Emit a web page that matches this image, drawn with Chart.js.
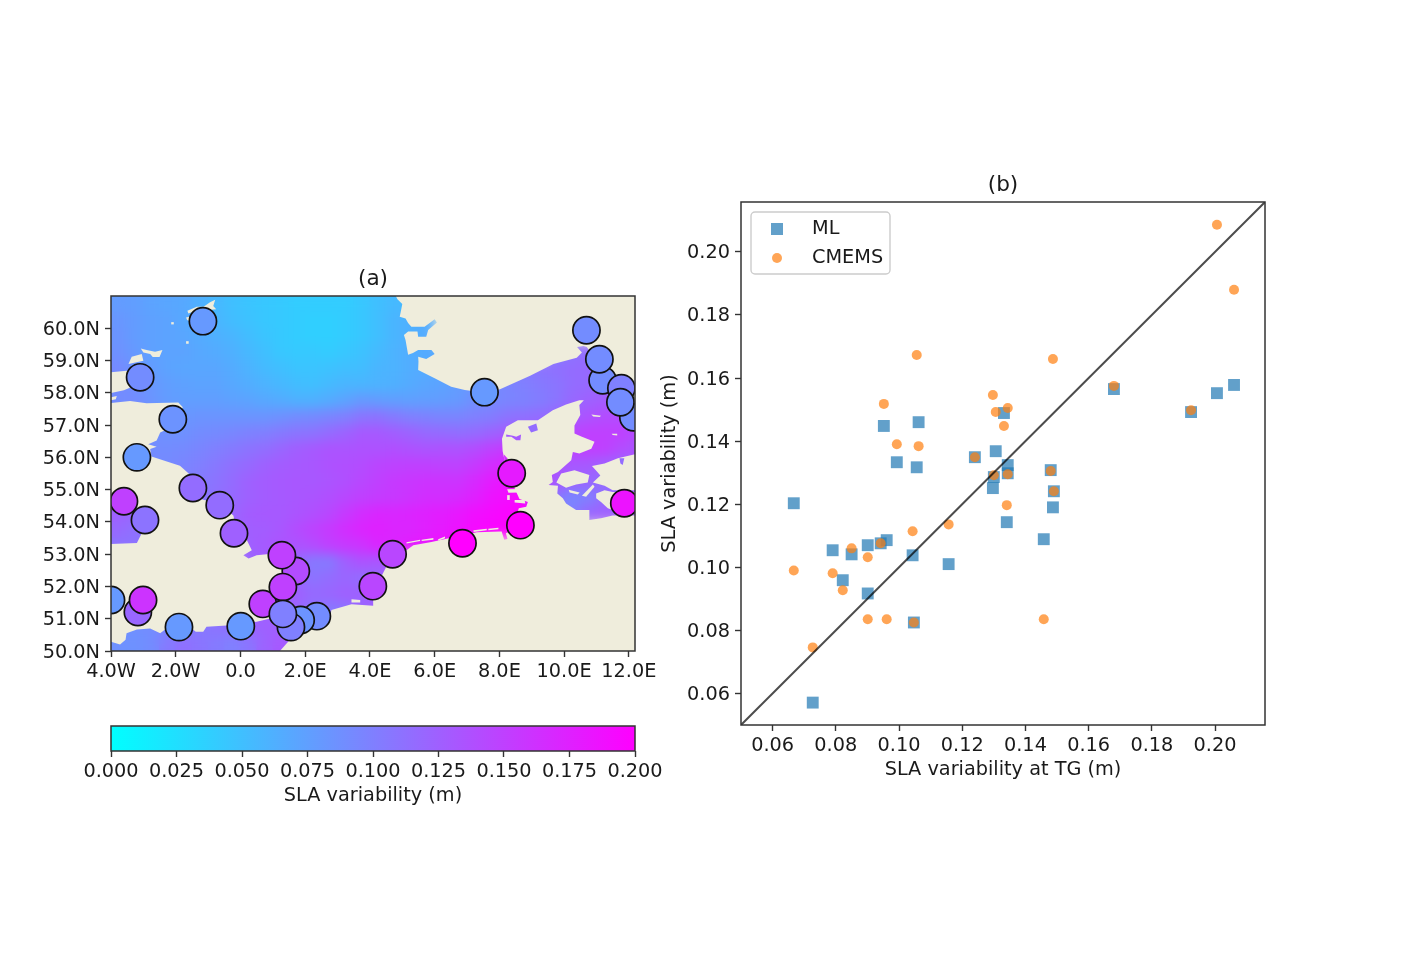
<!DOCTYPE html>
<html>
<head>
<meta charset="utf-8">
<title>SLA variability</title>
<script src="https://cdn.jsdelivr.net/npm/chart.js@4/dist/chart.umd.js"></script>
<style>
  body { margin: 0; background: #fff; }
  canvas { position: absolute; filter: blur(0.45px); }
  #mapChart { left: 30px; top: 256px; }
  #barChart { left: 30px; top: 716px; }
  #scatterChart { left: 650px; top: 162px; }
</style>
</head>
<body>
<canvas id="mapChart" width="650" height="435"></canvas>
<canvas id="barChart" width="650" height="95"></canvas>
<canvas id="scatterChart" width="680" height="623"></canvas>
<script>
// ── PANEL (b) VALUES ──
const tgValues = [0.0667, 0.0727, 0.079, 0.0822, 0.085, 0.0901, 0.0901, 0.0942, 0.0961, 0.0952, 0.0993, 0.1043, 0.1047, 0.1056, 0.1062, 0.1157, 0.124, 0.1297, 0.13, 0.1306, 0.1332, 0.1341, 0.1344, 0.1344, 0.1458, 0.148, 0.1487, 0.149, 0.168, 0.1924, 0.2006, 0.206];
const mlValues = [0.1203, 0.0571, 0.1054, 0.0959, 0.1041, 0.107, 0.0917, 0.1076, 0.1086, 0.1448, 0.1333, 0.1038, 0.0825, 0.1317, 0.146, 0.101, 0.1349, 0.1251, 0.1286, 0.1368, 0.1489, 0.1143, 0.1324, 0.1298, 0.1089, 0.1308, 0.119, 0.1241, 0.1565, 0.1492, 0.1552, 0.1578];
const cmemsValues = [0.099, 0.0746, 0.0981, 0.0927, 0.106, 0.1032, 0.0835, 0.1076, 0.0835, 0.1518, 0.139, 0.1114, 0.0825, 0.1673, 0.1384, 0.1136, 0.1349, 0.1546, 0.1292, 0.1492, 0.1448, 0.1197, 0.1505, 0.1295, 0.0835, 0.1305, 0.166, 0.1241, 0.1575, 0.1498, 0.2086, 0.188];
const scatterTicks = [0.06, 0.08, 0.10, 0.12, 0.14, 0.16, 0.18, 0.20];
const oneToOne = [0.05, 0.2158];

// ── PANEL (a) VALUES ──
const lonTicks = [-4, -2, 0, 2, 4, 6, 8, 10, 12];
const lonLabels = ['4.0W', '2.0W', '0.0', '2.0E', '4.0E', '6.0E', '8.0E', '10.0E', '12.0E'];
const latTicks = [50, 51, 52, 53, 54, 55, 56, 57, 58, 59, 60];
const latLabels = ['50.0N', '51.0N', '52.0N', '53.0N', '54.0N', '55.0N', '56.0N', '57.0N', '58.0N', '59.0N', '60.0N'];
const barTicks = [0, 0.025, 0.05, 0.075, 0.1, 0.125, 0.15, 0.175, 0.2];

// tide gauges, later ones sit on top
const gaugeLon = [-1.16, 10.69, 11.19, 11.09, 12.14, 11.77, 11.74, 7.54, -3.1, -2.09, -3.2, -1.47, -0.64, -0.2, -3.6, -2.95, 1.71, 1.28, 0.69, 1.31, 2.36, 1.86, 1.56, 1.31, 0.01, -1.9, -3.17, -3.01, -4, 4.09, 4.7, 6.86, 8.65, 8.38, 11.86];
const gaugeLat = [60.22, 59.94, 58.39, 59.04, 57.24, 58.14, 57.71, 58.02, 58.48, 57.18, 56.0, 55.05, 54.52, 53.65, 54.64, 54.06, 52.48, 52.97, 51.46, 51.98, 51.08, 50.96, 50.74, 51.15, 50.77, 50.74, 51.21, 51.58, 51.58, 52.01, 53.0, 53.34, 53.9, 55.51, 54.58];
const gaugeSla = [0.08, 0.09, 0.09, 0.09, 0.09, 0.1, 0.09, 0.08, 0.09, 0.085, 0.08, 0.115, 0.115, 0.125, 0.15, 0.11, 0.14, 0.15, 0.15, 0.15, 0.09, 0.085, 0.1, 0.1, 0.08, 0.08, 0.12, 0.16, 0.08, 0.145, 0.145, 0.2, 0.2, 0.18, 0.185];

// gridded field in mm, 0 or missing = under land
const fieldLons = [-3.75, -3.25, -2.75, -2.25, -1.75, -1.25, -0.75, -0.25, 0.25, 0.75, 1.25, 1.75, 2.25, 2.75, 3.25, 3.75, 4.25, 4.75, 5.25, 5.75, 6.25, 6.75, 7.25, 7.75, 8.25, 8.75, 9.25, 9.75, 10.25, 10.75, 11.25, 11.75, 12.25];
const fieldLats = [60.75, 60.25, 59.75, 59.25, 58.75, 58.25, 57.75, 57.25, 56.75, 56.25, 55.75, 55.25, 54.75, 54.25, 53.75, 53.25, 52.75, 52.25, 51.75, 51.25, 50.75, 50.25];
const slaField = [
  [78, 76, 72, 70, 68, 62, 56, 50, 46, 44, 42, 40, 40, 40, 40, 44, 50, 55, 55],
  [82, 78, 74, 72, 68, 64, 58, 52, 48, 44, 42, 40, 38, 38, 40, 44, 50, 58, 62, 64],
  [84, 78, 74, 72, 70, 66, 62, 58, 52, 46, 42, 40, 38, 38, 40, 44, 50, 58, 62, 66],
  [86, 80, 74, 72, 72, 68, 66, 62, 56, 50, 44, 42, 42, 40, 44, 48, 54, 60, 64, 66, 70, 70, 0, 0, 0, 0, 0, 100, 110, 115, 115],
  [92, 84, 78, 72, 70, 70, 70, 66, 60, 54, 50, 46, 46, 48, 50, 52, 58, 60, 64, 66, 70, 76, 80, 90, 100, 104, 110, 112, 115, 118, 118, 115],
  [92, 88, 82, 76, 74, 72, 72, 68, 64, 60, 56, 52, 50, 54, 58, 58, 60, 62, 66, 70, 72, 78, 84, 90, 96, 100, 104, 108, 115, 118, 120, 120],
  [90, 90, 84, 78, 76, 76, 76, 74, 72, 68, 66, 62, 62, 66, 72, 80, 78, 76, 75, 76, 78, 80, 88, 92, 96, 98, 102, 108, 118, 124, 128, 130, 130],
  [92, 92, 88, 84, 82, 84, 84, 84, 84, 84, 86, 90, 92, 96, 100, 108, 110, 104, 100, 98, 96, 96, 100, 102, 110, 112, 115, 120, 130, 135, 140, 140, 135],
  [92, 92, 88, 86, 86, 90, 92, 94, 98, 100, 104, 108, 110, 116, 122, 130, 130, 126, 122, 118, 116, 114, 116, 122, 128, 130, 130, 135, 145, 150, 150, 150, 140],
  [92, 92, 90, 90, 92, 96, 100, 104, 110, 114, 120, 126, 130, 134, 134, 136, 136, 138, 136, 134, 136, 136, 140, 148, 155, 155, 150, 145, 150, 150, 150, 140, 135],
  [96, 96, 92, 92, 96, 100, 106, 112, 118, 124, 128, 130, 132, 136, 138, 140, 146, 148, 150, 150, 148, 148, 155, 165, 172, 170, 150, 135, 130, 130, 125, 120, 120],
  [100, 98, 96, 96, 98, 104, 110, 116, 124, 128, 130, 132, 132, 134, 138, 144, 150, 155, 158, 160, 160, 160, 168, 178, 185, 185, 150, 130, 125, 120, 115, 115, 115],
  [125, 118, 106, 100, 100, 106, 112, 118, 124, 128, 130, 132, 134, 138, 144, 150, 154, 156, 160, 165, 165, 168, 175, 185, 190, 195, 130, 110, 95, 100, 115, 125, 125],
  [125, 120, 112, 104, 100, 106, 114, 120, 128, 130, 130, 134, 138, 144, 155, 165, 170, 170, 172, 175, 178, 182, 188, 192, 196, 198, 130, 100, 100, 120, 125, 125, 125],
  [118, 112, 108, 100, 100, 105, 112, 120, 126, 128, 132, 140, 148, 155, 165, 172, 175, 172, 172, 176, 180, 186, 192, 196, 198, 200],
  [110, 110, 110, 110, 110, 110, 110, 115, 125, 130, 135, 135, 140, 150, 155, 160, 170, 172, 178, 182, 190, 196, 198],
  [0, 0, 0, 0, 0, 0, 0, 0, 120, 125, 125, 118, 105, 105, 125, 135, 132, 135],
  [0, 0, 0, 0, 0, 0, 0, 0, 120, 125, 125, 120, 110, 115, 120, 115, 120, 125],
  [0, 0, 0, 0, 0, 0, 0, 0, 120, 125, 125, 125, 118, 120, 125, 125, 125, 125],
  [90, 90, 90, 95, 100, 105, 110, 115, 120, 125, 125, 120, 110, 105, 110, 120, 125],
  [88, 88, 90, 94, 100, 105, 110, 114, 120, 125, 125, 120, 112, 108],
  [86, 86, 90, 104, 112, 108, 104, 100, 108, 122, 130, 125, 115]
];

// ── COASTLINES (lon, lat) ──
const britain = [[-4, 50.29], [-3.72, 50.2], [-3.55, 50.35], [-3.52, 50.55], [-3.2, 50.67], [-2.79, 50.7], [-2.48, 50.55], [-2.35, 50.65], [-1.9, 50.65], [-1.46, 50.66], [-1.38, 50.6], [-1.15, 50.6], [-1.05, 50.75], [-0.3, 50.8], [0.5, 50.91], [0.92, 51.01], [1.4, 51.15], [1.3, 51.4], [0.8, 51.45], [1.0, 51.7], [1.3, 51.85], [1.6, 52.2], [1.75, 52.55], [1.6, 52.8], [1.3, 52.95], [0.81, 53.0], [0.5, 52.97], [0.25, 52.87], [0.09, 52.97], [0.35, 53.12], [0.2, 53.43], [-0.1, 53.65], [-0.15, 53.9], [-0.22, 54.2], [-0.63, 54.55], [-1.2, 54.7], [-1.45, 55.05], [-1.6, 55.5], [-1.87, 55.74], [-2.75, 56.03], [-2.79, 56.26], [-2.59, 56.33], [-2.85, 56.41], [-2.59, 56.52], [-2.48, 56.77], [-2.1, 56.95], [-1.95, 57.3], [-1.78, 57.55], [-1.92, 57.7], [-2.9, 57.68], [-3.41, 57.75], [-4.3, 57.65], [-4.3, 54.6], [-3.5, 54.6], [-3.0, 54.3], [-2.9, 53.95], [-3.0, 53.75], [-3.1, 53.55], [-3.2, 53.35], [-4.3, 53.3], [-4.3, 50.29]];
const caithness = [[-4.3, 58.61], [-3.52, 58.68], [-3.2, 58.6], [-3.05, 58.5], [-3.2, 58.25], [-3.6, 58.08], [-4.3, 57.93]];
const blackIsle = [[-4.3, 57.8], [-3.82, 57.9], [-3.85, 57.8], [-4.3, 57.72]];
const orkneyMain = [[-3.46, 58.89], [-3.36, 59.12], [-3.05, 59.2], [-3.0, 58.99]];
const orkneyNorth = [[-3.08, 59.37], [-2.9, 59.33], [-2.64, 59.27], [-2.41, 59.33], [-2.5, 59.11], [-2.71, 59.11], [-2.79, 59.2], [-3.0, 59.25]];
const shetland = [[-0.94, 60.81], [-0.78, 60.88], [-0.84, 60.69], [-0.75, 60.59], [-0.99, 60.57], [-1.25, 60.59], [-1.61, 60.46], [-1.64, 60.54], [-1.35, 60.67], [-1.14, 60.67]];
const shetlandSouth = [[-1.68, 60.33], [-1.5, 60.38], [-1.3, 60.1], [-1.65, 60.26]];
const foula = [[-2.14, 60.19], [-2.06, 60.19], [-2.06, 60.12], [-2.14, 60.12]];
const fairIsle = [[-1.68, 59.6], [-1.6, 59.6], [-1.6, 59.52], [-1.68, 59.52]];
const continent = [[1.22, 49.8], [1.22, 50], [1.52, 50.34], [1.94, 50.7], [2.76, 51.0], [2.81, 51.27], [3.43, 51.45], [4.1, 51.4], [4.1, 51.6], [4.2, 52.0], [4.4, 52.4], [4.6, 52.8], [5.13, 53.12], [5.34, 53.28], [5.9, 53.38], [6.47, 53.5], [7.3, 53.68], [8.07, 53.7], [8.15, 53.45], [8.25, 53.47], [8.2, 53.65], [8.45, 53.75], [8.8, 53.85], [8.95, 54.0], [8.55, 54.25], [8.6, 54.42], [8.83, 54.47], [8.88, 54.62], [8.62, 54.71], [8.47, 55.04], [8.45, 55.3], [8.2, 55.5], [8.16, 55.91], [8.1, 56.2], [8.08, 56.58], [8.21, 56.95], [8.57, 57.15], [9.19, 57.15], [9.65, 57.46], [10.06, 57.64], [10.47, 57.77], [10.61, 57.77], [10.47, 57.62], [10.5, 57.31], [10.32, 56.99], [10.32, 56.74], [10.55, 56.64], [10.94, 56.48], [10.84, 56.27], [10.47, 56.12], [10.27, 56.17], [10.22, 55.91], [9.81, 55.55], [9.62, 55.45], [9.65, 55.24], [9.52, 55.14], [9.81, 55.12], [9.79, 54.88], [9.96, 54.73], [10.06, 54.57], [10.37, 54.37], [10.78, 54.37], [10.78, 54.06], [11.14, 54.11], [11.5, 54.2], [12.4, 54.2], [12.4, 49.8]];
const scandinavia = [[4.7, 61.2], [4.85, 60.9], [5.0, 60.75], [4.95, 60.5], [4.92, 60.36], [5.1, 60.3], [5.18, 60.16], [5.28, 60.05], [5.69, 60.05], [6.0, 60.28], [6.07, 60.18], [5.8, 59.95], [5.74, 59.74], [5.49, 59.74], [5.47, 59.9], [5.18, 59.9], [5.05, 59.79], [5.1, 59.64], [5.18, 59.18], [5.33, 59.23], [5.49, 59.33], [5.9, 59.33], [6.0, 59.2], [5.74, 59.05], [5.49, 59.12], [5.5, 58.97], [5.49, 58.71], [6.0, 58.45], [6.51, 58.19], [6.93, 58.09], [7.56, 58.0], [8.02, 58.11], [8.95, 58.53], [9.67, 58.89], [10.39, 59.09], [10.55, 59.25], [10.4, 59.42], [10.6, 59.45], [10.7, 59.42], [10.85, 59.2], [11.1, 58.9], [11.3, 58.6], [11.42, 58.3], [11.63, 57.8], [11.85, 57.2], [12.4, 56.9], [12.4, 61.2]];
const zealand = [[10.86, 55.73], [11.25, 55.81], [11.66, 55.97], [12.4, 56.15], [12.4, 54.98], [11.5, 54.98], [11.25, 55.12], [10.89, 55.22], [11.12, 55.44], [11.0, 55.58]];
const funen = [[9.91, 55.5], [10.32, 55.6], [10.78, 55.45], [10.73, 55.22], [10.37, 55.16], [10.06, 55.06], [9.76, 55.22]];
const langeland = [[10.89, 55.16], [10.94, 55.09], [10.68, 54.78], [10.55, 54.81]];
const aero = [[10.14, 55.0], [10.48, 54.91], [10.42, 54.85], [10.17, 54.91]];
const lolland = [[10.99, 54.88], [11.25, 54.98], [11.5, 54.93], [12.4, 54.93], [12.4, 54.37], [11.5, 54.37], [11.35, 54.42], [11.14, 54.62], [10.99, 54.73]];
const laeso = [[10.84, 57.33], [11.14, 57.29], [11.1, 57.25], [10.9, 57.27]];
const anholt = [[11.47, 56.73], [11.64, 56.73], [11.64, 56.68], [11.5, 56.69]];
const ameland = [[5.13, 53.37], [5.55, 53.45], [5.55, 53.41], [5.13, 53.33]];
const schier = [[5.6, 53.45], [5.96, 53.5], [5.96, 53.45], [5.6, 53.41]];
const borkum = [[6.11, 53.46], [6.32, 53.55], [6.32, 53.49], [6.11, 53.42]];
const norderney = [[7.2, 53.74], [7.61, 53.79], [7.61, 53.74], [7.2, 53.69]];
const wangerooge = [[7.66, 53.79], [7.97, 53.82], [7.97, 53.77], [7.66, 53.74]];
const sylt = [[8.24, 55.01], [8.62, 55.02], [8.62, 54.91], [8.28, 54.9]];
const amrum = [[8.24, 54.83], [8.32, 54.83], [8.32, 54.68], [8.24, 54.68]];
const pellworm = [[8.47, 54.68], [8.78, 54.68], [8.8, 54.57], [8.47, 54.6]];
const zeeland = [[3.43, 51.6], [3.7, 51.58], [3.7, 51.5], [3.43, 51.5]];
const landParts = [britain, caithness, blackIsle, orkneyMain, orkneyNorth, shetland, shetlandSouth, foula, fairIsle, continent, scandinavia, zealand, funen, langeland, aero, lolland, laeso, anholt, ameland, schier, borkum, norderney, wangerooge, sylt, amrum, pellworm, zeeland];

// inland water on top of the land, with its SLA
const limfjordEast = [[8.88, 56.95], [9.14, 57.05], [9.19, 56.84], [8.98, 56.77]];
const limfjordWest = [[8.21, 56.71], [8.42, 56.67], [8.52, 56.64], [8.67, 56.71], [8.65, 56.53], [8.52, 56.53], [8.37, 56.64], [8.21, 56.64]];
const ringkobing = [[8.14, 56.09], [8.26, 55.96], [8.16, 55.88]];
const isefjord = [[11.71, 55.97], [11.86, 55.97], [11.81, 55.76], [11.74, 55.81]];
const waterParts = [limfjordEast, limfjordWest, ringkobing, isefjord];
const waterSla = [0.115, 0.13, 0.165, 0.115];

// ── COLOURS ──
const LAND = '#efeddc';
const FRAME = '#333';
const TEXT = '#1a1a1a';
const TEXT_PX = 19.3;
function cool(v) {
  const t = Math.min(1, Math.max(0, v / 0.2));
  return `rgb(${Math.round(255 * t)},${Math.round(255 * (1 - t))},255)`;
}

Chart.defaults.font.family = '"DejaVu Sans"';
Chart.defaults.font.size = TEXT_PX;
Chart.defaults.color = TEXT;
Chart.defaults.animation = false;
Chart.defaults.plugins.legend.display = false;
Chart.defaults.plugins.tooltip.enabled = false;

// ── PLUGINS ──
const framePlugin = {
  id: 'frame',
  afterDatasetsDraw(chart) {
    const a = chart.chartArea, ctx = chart.ctx;
    ctx.save();
    ctx.strokeStyle = FRAME;
    ctx.lineWidth = 1.5;
    ctx.strokeRect(a.left, a.top, a.width, a.height);
    ctx.restore();
  }
};
// Land colour under everything, softened field, closed shapes from scale-placed points
const mapLayersPlugin = {
  id: 'mapLayers',
  beforeDatasetsDraw(chart) {
    const a = chart.chartArea, ctx = chart.ctx;
    ctx.save();
    ctx.fillStyle = LAND;
    ctx.fillRect(a.left, a.top, a.width, a.height);
    ctx.restore();
  },
  afterDatasetDraw(chart, args) {
    const ds = chart.data.datasets[args.index];
    const a = chart.chartArea, ctx = chart.ctx;
    if (ds.softened) {
      const r = chart.currentDevicePixelRatio;
      ctx.save();
      ctx.beginPath();
      ctx.rect(a.left, a.top, a.width, a.height);
      ctx.clip();
      ctx.filter = 'blur(6px)';
      ctx.drawImage(chart.canvas, a.left * r, a.top * r, a.width * r, a.height * r, a.left, a.top, a.width, a.height);
      ctx.restore();
    }
    if (!ds.polygonFill) return;
    ctx.save();
    ctx.beginPath();
    ctx.rect(a.left, a.top, a.width, a.height);
    ctx.clip();
    ctx.beginPath();
    args.meta.data.forEach((pt, i) => i ? ctx.lineTo(pt.x, pt.y) : ctx.moveTo(pt.x, pt.y));
    ctx.closePath();
    ctx.fillStyle = ds.polygonFill;
    ctx.fill();
    ctx.restore();
  }
};
// rows go ML first, datasets are listed top layer first
const legendBoxPlugin = {
  id: 'legendBox',
  afterDatasetsDraw(chart) {
    const a = chart.chartArea, ctx = chart.ctx;
    const x = a.left + 10, y = a.top + 10;
    ctx.save();
    ctx.beginPath();
    ctx.roundRect(x, y, 139, 62, 4);
    ctx.fillStyle = 'rgba(255,255,255,0.8)';
    ctx.fill();
    ctx.strokeStyle = '#ccc';
    ctx.lineWidth = 1.4;
    ctx.stroke();
    ctx.font = `${TEXT_PX}px "DejaVu Sans"`;
    ctx.textBaseline = 'middle';
    chart.data.datasets.filter(d => d.inLegend).reverse().forEach((d, i) => {
      const rowY = y + 17 + i * 29;
      ctx.fillStyle = d.pointBackgroundColor;
      ctx.beginPath();
      if (d.pointStyle === 'rect') ctx.rect(x + 20, rowY - 6, 12, 12);
      else ctx.arc(x + 26, rowY, d.pointRadius, 0, Math.PI * 2);
      ctx.fill();
      ctx.fillStyle = TEXT;
      ctx.fillText(d.label, x + 61, rowY);
    });
    ctx.restore();
  }
};

function fixX(height) {
  return s => { s.height = height; s.paddingLeft = 0; s.paddingRight = 0; };
}
function fixY(width) {
  return s => { s.width = width; s.paddingTop = 0; s.paddingBottom = 0; };
}
function fixedTicks(values) {
  return axis => { axis.ticks = values.map(v => ({ value: v })); };
}
const tickGrid = { drawOnChartArea: false, drawTicks: true, tickLength: 6, tickWidth: 1.4, tickColor: FRAME };
const tickFont = { size: TEXT_PX };
function titleOpts(text) {
  return { display: true, fullSize: false, text, color: TEXT, font: { size: 21.6, weight: 'normal', lineHeight: '26px' }, padding: { top: 1, bottom: 4 } };
}

// ── MAP ──
function renderMap() {
  const cells = [], cellColors = [];
  slaField.forEach((row, r) => row.forEach((v, c) => {
    if (v > 0) {
      cells.push({ x: fieldLons[c], y: fieldLats[r] });
      cellColors.push(cool(v / 1000));
    }
  }));
  const toPts = part => part.map(p => ({ x: p[0], y: p[1] }));
  const datasets = [{
    type: 'scatter', data: cells, pointStyle: 'rect', pointRadius: 12, pointBorderWidth: 0,
    pointBackgroundColor: cellColors, clip: 0, order: 9, softened: true
  }];
  landParts.forEach(part => datasets.push({
    type: 'line', data: toPts(part), pointRadius: 0, borderWidth: 0, fill: false,
    polygonFill: LAND, order: 5
  }));
  waterParts.forEach((part, i) => datasets.push({
    type: 'line', data: toPts(part), pointRadius: 0, borderWidth: 0, fill: false,
    polygonFill: cool(waterSla[i]), order: 4
  }));
  datasets.push({
    type: 'scatter', data: gaugeLon.map((x, i) => ({ x, y: gaugeLat[i] })),
    pointRadius: 13.6, pointBorderWidth: 1.7, pointBorderColor: '#111',
    pointBackgroundColor: gaugeSla.map(cool), clip: 0, order: 1
  });
  new Chart(document.getElementById('mapChart'), {
    data: { datasets },
    plugins: [mapLayersPlugin, framePlugin],
    options: {
      responsive: false,
      layout: { padding: { top: 9, right: 45 } },
      plugins: { title: titleOpts('(a)') },
      scales: {
        x: {
          type: 'linear', min: -4, max: 12.19, afterFit: fixX(40), afterBuildTicks: fixedTicks(lonTicks),
          grid: tickGrid, border: { display: false },
          ticks: { autoSkip: false, maxRotation: 0, padding: 3, font: tickFont, callback: (v, i) => lonLabels[i] }
        },
        y: {
          type: 'linear', min: 50, max: 61, afterFit: fixY(81), afterBuildTicks: fixedTicks(latTicks),
          grid: tickGrid, border: { display: false },
          ticks: { autoSkip: false, padding: 5, labelOffset: 1.5, font: tickFont, callback: (v, i) => latLabels[i] }
        }
      }
    }
  });
}

// ── COLOUR BAR ──
function renderBar() {
  new Chart(document.getElementById('barChart'), {
    type: 'bar',
    data: {
      labels: [''],
      datasets: [{
        data: [barTicks[barTicks.length - 1]],
        barPercentage: 1, categoryPercentage: 1,
        backgroundColor: ctx => {
          const a = ctx.chart.chartArea;
          if (!a) return '#888';
          const g = ctx.chart.ctx.createLinearGradient(a.left, 0, a.right, 0);
          g.addColorStop(0, cool(0));
          g.addColorStop(1, cool(0.2));
          return g;
        }
      }]
    },
    plugins: [framePlugin],
    options: {
      responsive: false,
      indexAxis: 'y',
      layout: { padding: { top: 10, left: 81, right: 45 } },
      scales: {
        x: {
          type: 'linear', min: 0, max: 0.2, afterFit: fixX(60), afterBuildTicks: fixedTicks(barTicks),
          grid: tickGrid, border: { display: false },
          ticks: { autoSkip: false, maxRotation: 0, padding: 3, font: tickFont, callback: v => v.toFixed(3) },
          title: { display: true, text: 'SLA variability (m)', color: TEXT, font: { size: TEXT_PX }, padding: 3 }
        },
        y: { display: false }
      }
    }
  });
}

// ── SCATTER ──
function renderScatter() {
  const BLUE = 'rgba(31,119,180,0.7)', ORANGE = 'rgba(255,127,14,0.7)';
  new Chart(document.getElementById('scatterChart'), {
    data: {
      datasets: [
        { type: 'line', data: oneToOne.map(v => ({ x: v, y: v })), borderColor: 'rgba(0,0,0,0.7)', borderWidth: 2, pointRadius: 0, order: 1 },
        { type: 'scatter', label: 'CMEMS', inLegend: true, data: tgValues.map((x, i) => ({ x, y: cmemsValues[i] })), pointStyle: 'circle', pointRadius: 5, pointBorderWidth: 0, pointBackgroundColor: ORANGE, order: 2 },
        { type: 'scatter', label: 'ML', inLegend: true, data: tgValues.map((x, i) => ({ x, y: mlValues[i] })), pointStyle: 'rect', pointRadius: 8.4, pointBorderWidth: 0, pointBackgroundColor: BLUE, order: 3 }
      ]
    },
    plugins: [framePlugin, legendBoxPlugin],
    options: {
      responsive: false,
      layout: { padding: { top: 9, right: 65 } },
      plugins: { title: titleOpts('(b)') },
      scales: {
        x: {
          type: 'linear', min: 0.05, max: 0.2158, afterFit: fixX(60), afterBuildTicks: fixedTicks(scatterTicks),
          grid: tickGrid, border: { display: false },
          ticks: { autoSkip: false, maxRotation: 0, padding: 3, font: tickFont, callback: v => v.toFixed(2) },
          title: { display: true, text: 'SLA variability at TG (m)', color: TEXT, font: { size: TEXT_PX }, padding: 3 }
        },
        y: {
          type: 'linear', min: 0.05, max: 0.2158, afterFit: fixY(91), afterBuildTicks: fixedTicks(scatterTicks),
          grid: tickGrid, border: { display: false },
          ticks: { autoSkip: false, padding: 5, labelOffset: 1.5, font: tickFont, callback: v => v.toFixed(2) },
          title: { display: true, text: 'SLA variability (m)', color: TEXT, font: { size: TEXT_PX }, padding: 8 }
        }
      }
    }
  });
}

renderMap();
renderBar();
renderScatter();
</script>
</body>
</html>
